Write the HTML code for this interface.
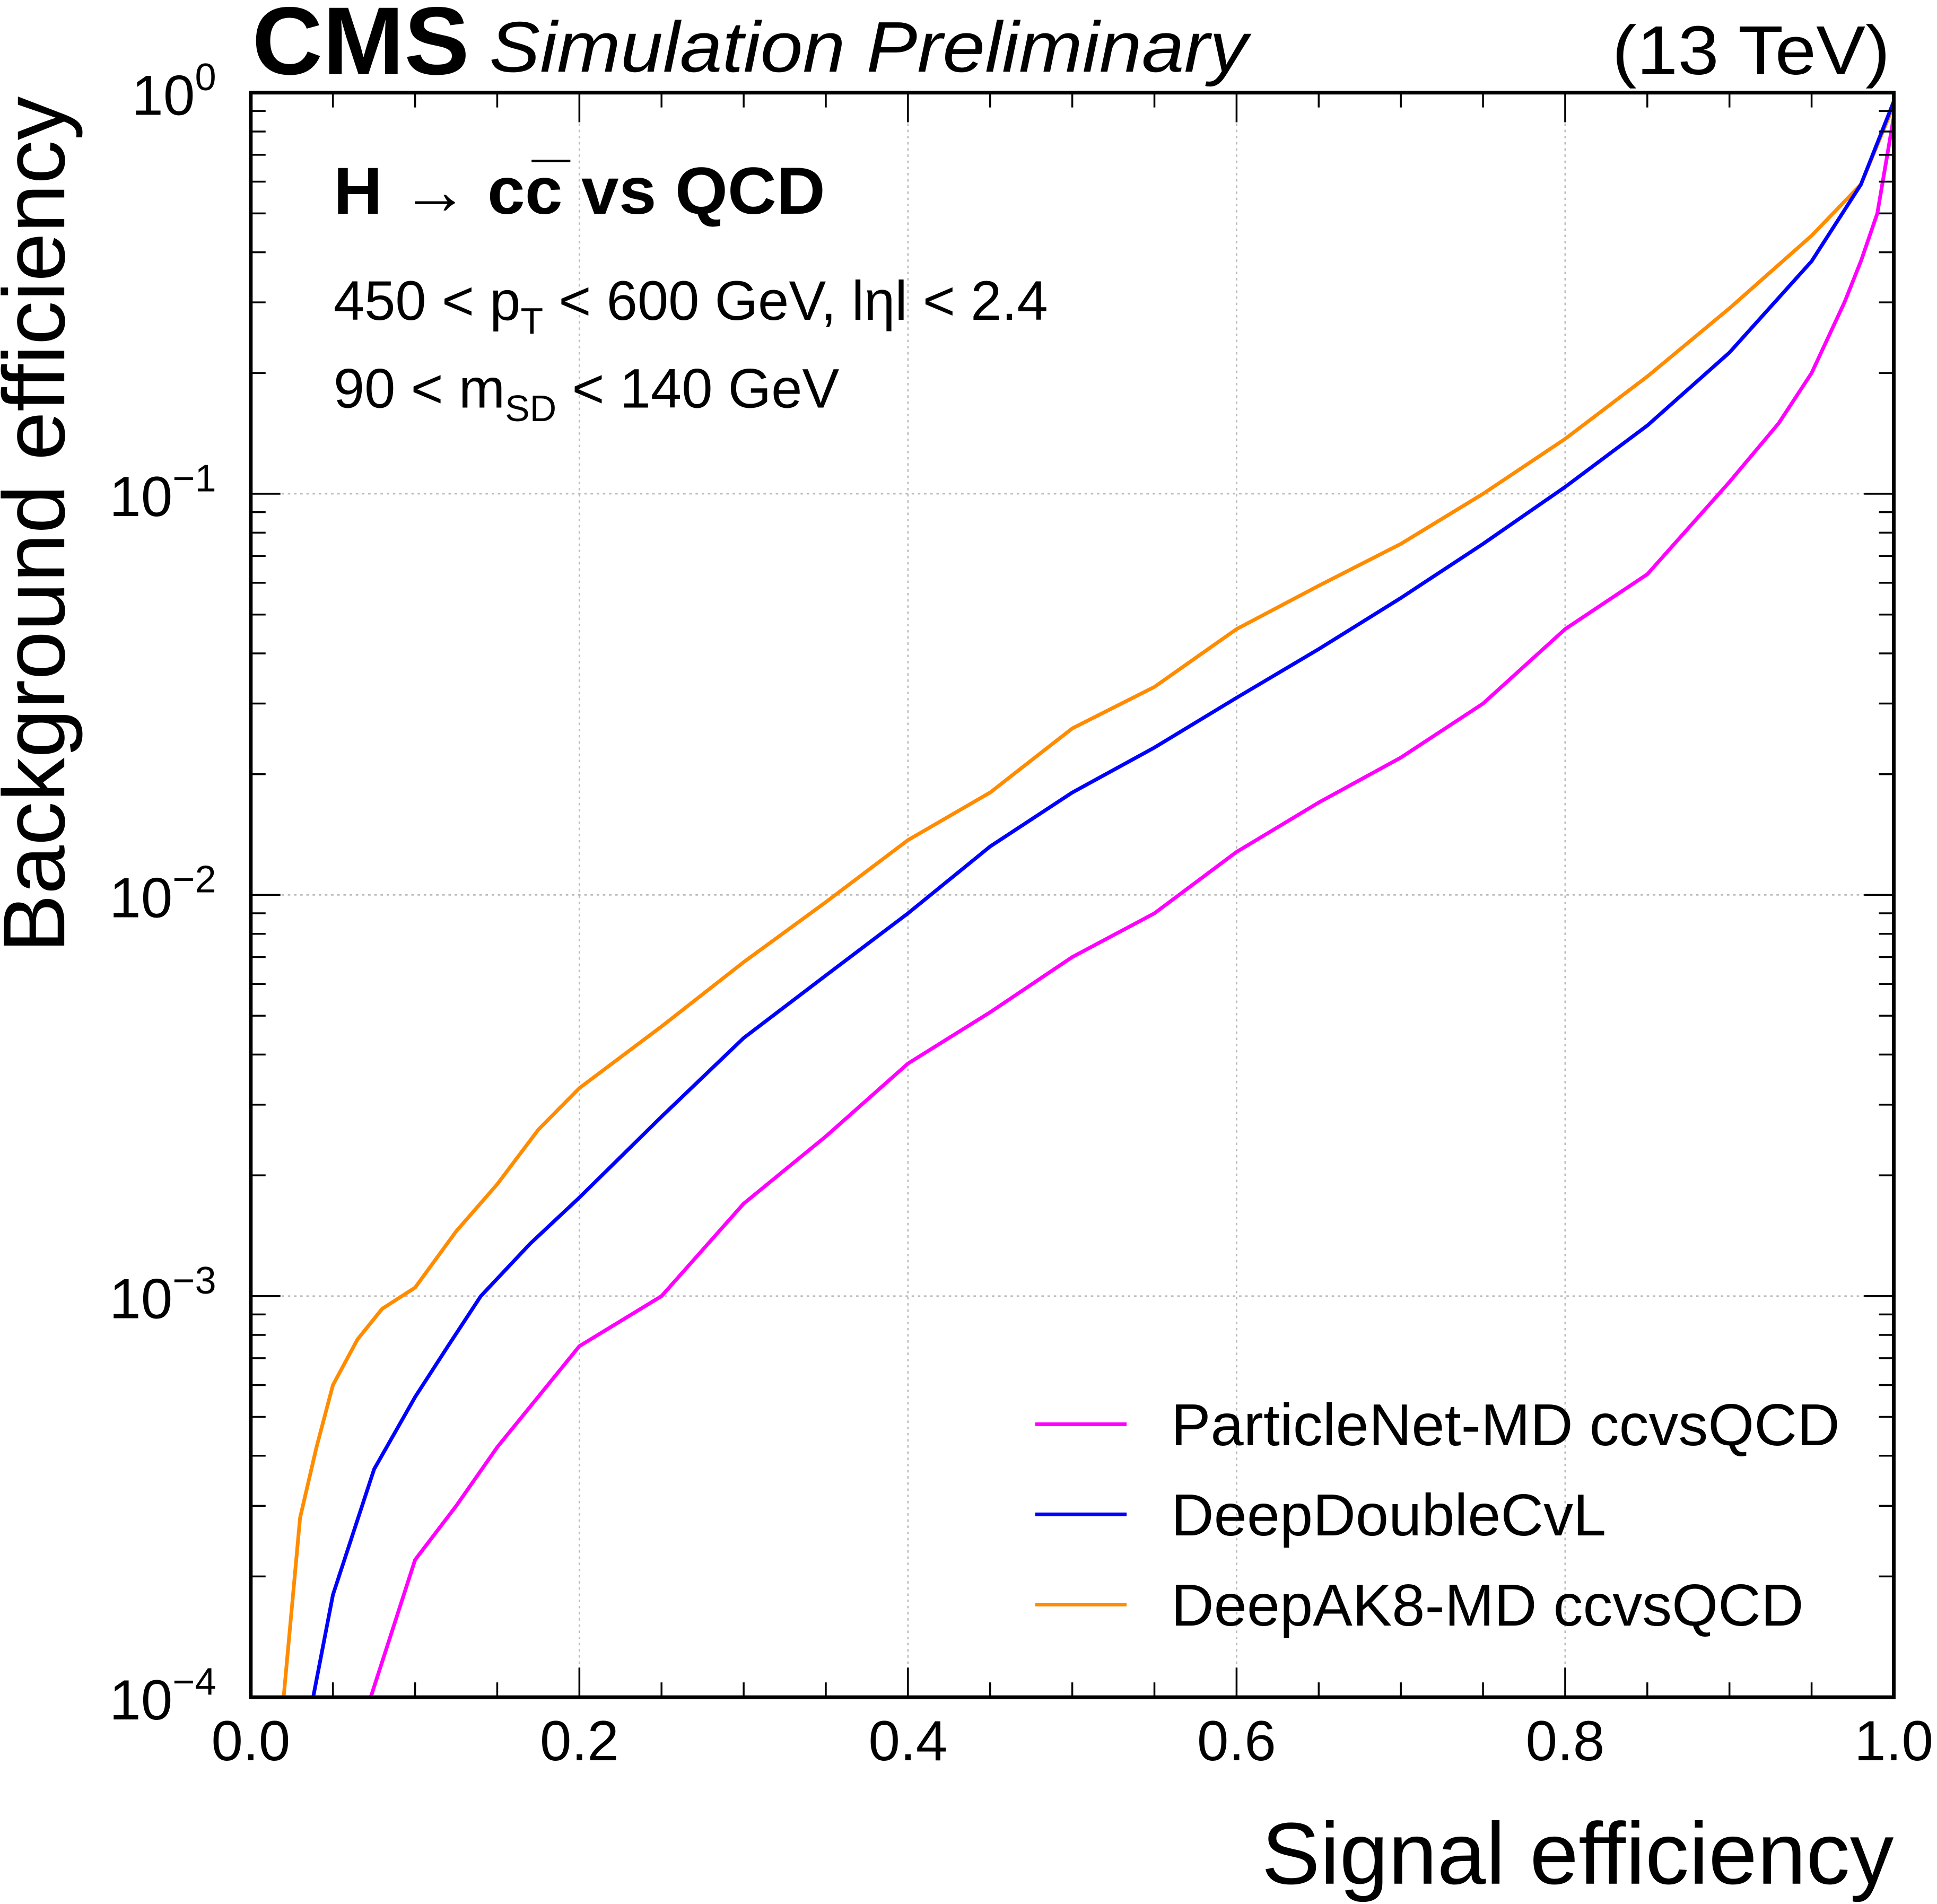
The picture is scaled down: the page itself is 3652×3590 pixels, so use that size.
<!DOCTYPE html>
<html><head><meta charset="utf-8"><style>
html,body{margin:0;padding:0;background:#fff}
svg{display:block;font-family:"Liberation Sans",Arial,sans-serif}
</style></head><body>
<svg id="chart" width="3652" height="3590" viewBox="0 0 1568 1541.4" xmlns="http://www.w3.org/2000/svg">
<rect width="1568" height="1541.4" fill="#fff"/>
<g id="grid"></g>
<g id="curves"></g>
<g id="ticks"></g>
<rect x="203" y="75" width="1330" height="1299" fill="none" stroke="#000" stroke-width="3"/>
<text x="204" y="60" font-size="78" font-weight="bold" textLength="176" lengthAdjust="spacingAndGlyphs">CMS</text>
<text x="396" y="58" font-size="58" font-style="italic" textLength="614" lengthAdjust="spacingAndGlyphs">Simulation Preliminary</text>
<text x="1305" y="60" font-size="56" textLength="225" lengthAdjust="spacingAndGlyphs">(13 TeV)</text>
<text x="270" y="173" font-size="54" font-weight="bold" textLength="398" lengthAdjust="spacingAndGlyphs">H → cc̅ vs QCD</text>
<text x="270" y="259" font-size="45">450 &lt; p<tspan font-size="30" dy="11">T</tspan><tspan dy="-11"> &lt; 600 GeV, lηl &lt; 2.4</tspan></text>
<text x="270" y="330" font-size="45">90 &lt; m<tspan font-size="30" dy="11">SD</tspan><tspan dy="-11"> &lt; 140 GeV</tspan></text>
<text x="1533" y="1525" font-size="71" text-anchor="end">Signal efficiency</text>
<text transform="translate(52,78) rotate(-90)" font-size="71" text-anchor="end">Background efficiency</text>
<g id="legend"></g>
</svg>
<script>
const xTicks=[0,0.2,0.4,0.6,0.8,1.0];
const xTickLabels=["0.0","0.2","0.4","0.6","0.8","1.0"];
const yDecades=[0,-1,-2,-3,-4];
const yTickLabels=["0","−1","−2","−3","−4"];
const seriesNames=["ParticleNet-MD ccvsQCD","DeepDoubleCvL","DeepAK8-MD ccvsQCD"];
const seriesColors=["#ff00ff","#0000ff","#ff8c00"];
const xPN=[0.073,0.1,0.125,0.15,0.2,0.25,0.3,0.35,0.4,0.45,0.5,0.55,0.6,0.65,0.7,0.75,0.8,0.85,0.9,0.93,0.95,0.97,0.98,0.99,1.0];
const yPN=[1e-4,2.2e-4,3e-4,4.2e-4,7.5e-4,1e-3,1.7e-3,2.5e-3,3.8e-3,5.1e-3,7e-3,9e-3,1.28e-2,1.7e-2,2.2e-2,3e-2,4.6e-2,6.3e-2,0.107,0.15,0.2,0.3,0.38,0.5,0.87];
const xDDC=[0.038,0.05,0.075,0.1,0.12,0.14,0.17,0.2,0.25,0.3,0.35,0.4,0.45,0.5,0.55,0.6,0.65,0.7,0.75,0.8,0.85,0.9,0.95,0.98,1.0];
const yDDC=[1e-4,1.8e-4,3.7e-4,5.6e-4,7.5e-4,1e-3,1.35e-3,1.76e-3,2.8e-3,4.4e-3,6.3e-3,9e-3,1.32e-2,1.8e-2,2.33e-2,3.1e-2,4.1e-2,5.5e-2,7.5e-2,0.104,0.148,0.225,0.38,0.59,0.95];
const xAK8=[0.02,0.03,0.04,0.05,0.065,0.08,0.1,0.125,0.15,0.175,0.2,0.25,0.3,0.35,0.4,0.45,0.5,0.55,0.6,0.65,0.7,0.75,0.8,0.85,0.9,0.95,0.98,1.0];
const yAK8=[1e-4,2.8e-4,4.2e-4,6e-4,7.8e-4,9.3e-4,1.05e-3,1.45e-3,1.9e-3,2.6e-3,3.3e-3,4.7e-3,6.8e-3,9.6e-3,1.37e-2,1.8e-2,2.6e-2,3.3e-2,4.6e-2,5.9e-2,7.5e-2,0.1,0.137,0.196,0.29,0.44,0.59,0.93];

const L=203,R=1533,T=75,B=1374;
const sx=v=>L+(R-L)*v;
const sy=v=>T+(B-T)*(-Math.log10(v))/4;
const NS="http://www.w3.org/2000/svg";
function mk(tag,attrs,parent){const e=document.createElementNS(NS,tag);for(const k in attrs)e.setAttribute(k,attrs[k]);parent.appendChild(e);return e;}
const grid=document.getElementById('grid'),ticks=document.getElementById('ticks'),curves=document.getElementById('curves'),legend=document.getElementById('legend');
xTicks.forEach((v,i)=>{
  const x=sx(v);
  if(i>0&&i<xTicks.length-1){const g=mk('line',{x1:x,x2:x,y1:T,y2:B,stroke:'#bbb','stroke-width':1.2,'stroke-dasharray':'2,3'},grid);
  
  }
  const t=mk('text',{x:x,y:1425,'font-size':46,'text-anchor':'middle'},ticks);t.textContent=xTickLabels[i];
  
  
});
for(let k=0;k<=20;k++){const v=k*0.05,x=sx(v),len=(k%4===0)?24:12;
  mk('line',{x1:x,x2:x,y1:B,y2:B-len,stroke:'#000','stroke-width':1.5},ticks);
  mk('line',{x1:x,x2:x,y1:T,y2:T+len,stroke:'#000','stroke-width':1.5},ticks);}
yDecades.forEach((d,i)=>{
  const y=sy(Math.pow(10,d));
  if(i>0&&i<yDecades.length-1){const g=mk('line',{x1:L,x2:R,y1:y,y2:y,stroke:'#bbb','stroke-width':1.2,'stroke-dasharray':'2,3'},grid);
  
  }
  const t=mk('text',{x:175,y:y+18,'font-size':46,'text-anchor':'end'},ticks);
  t.innerHTML='10<tspan font-size="31" dy="-20">'+yTickLabels[i]+'</tspan>';
  
  
  mk('line',{x1:L,x2:L+24,y1:y,y2:y,stroke:'#000','stroke-width':1.5},ticks);
  mk('line',{x1:R,x2:R-24,y1:y,y2:y,stroke:'#000','stroke-width':1.5},ticks);
  if(d>-4){for(let m=2;m<=9;m++){const yy=sy(m*Math.pow(10,d-1));
    mk('line',{x1:L,x2:L+12,y1:yy,y2:yy,stroke:'#000','stroke-width':1.5},ticks);
    mk('line',{x1:R,x2:R-12,y1:yy,y2:yy,stroke:'#000','stroke-width':1.5},ticks);}}
});
const allX=[xPN,xDDC,xAK8],allY=[yPN,yDDC,yAK8],curveNames=['particlenet-curve','deepdoublecvl-curve','deepak8-curve'];
[2,1,0].forEach(s=>{
  const pts=allX[s].map((x,i)=>sx(x).toFixed(1)+','+sy(allY[s][i]).toFixed(1)).join(' ');
  const p=mk('polyline',{points:pts,fill:'none',stroke:seriesColors[s],'stroke-width':3,'stroke-linejoin':'round'},curves);
  
  
});
seriesNames.forEach((n,i)=>{
  const y=1153+i*73;
  const l=mk('line',{x1:838,x2:912,y1:y,y2:y,stroke:seriesColors[i],'stroke-width':3},legend);
  
  
  const t=mk('text',{x:948,y:y+17,'font-size':48},legend);t.textContent=n;
  
  
});
</script>
</body></html>
